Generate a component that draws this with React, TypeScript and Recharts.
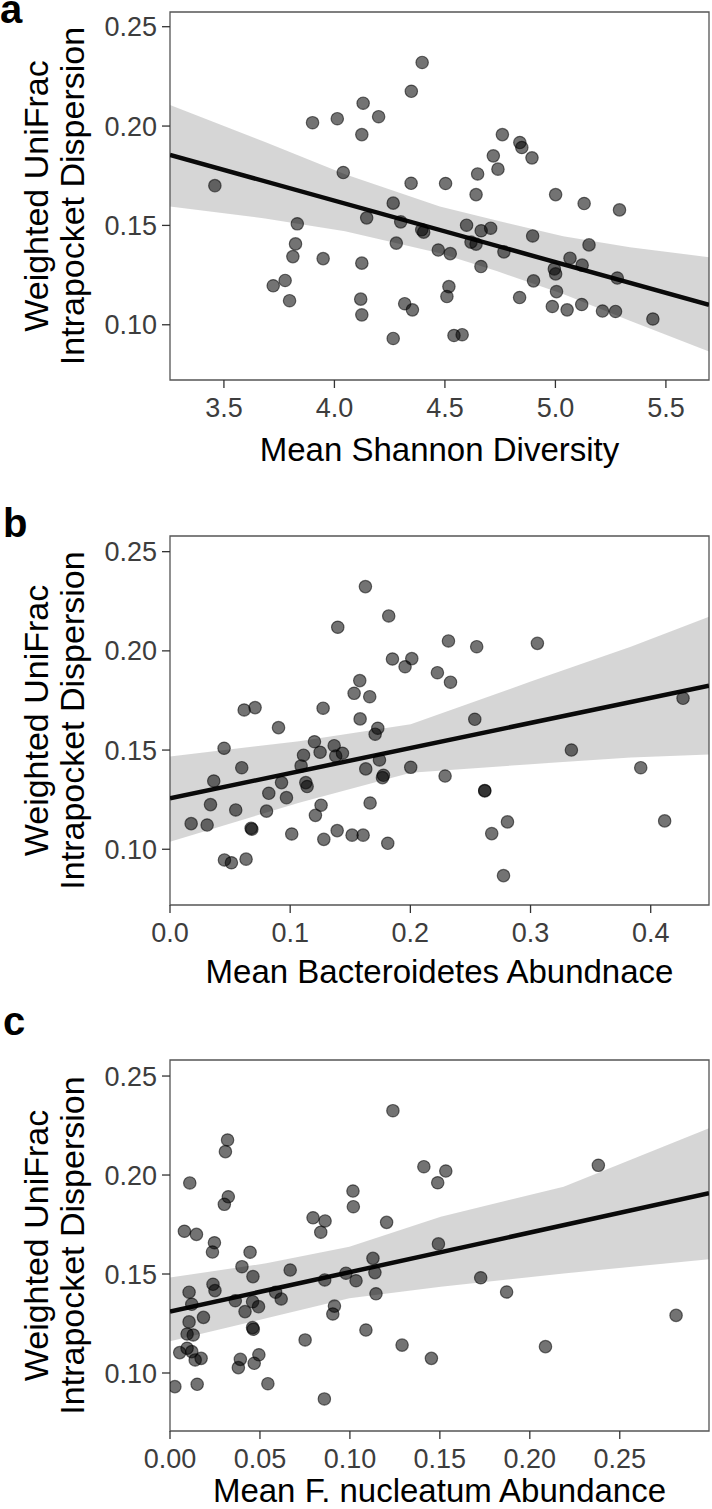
import { Area, ComposedChart, Line, ReferenceArea, Scatter, XAxis, YAxis } from 'recharts';

const FONT = '"Liberation Sans", Arial, Helvetica, sans-serif';

// shared y axis
const DISPERSION_TICKS = [0.1, 0.15, 0.2, 0.25];

// panel a: Shannon diversity
const SHANNON_X = [
  3.459, 4.397, 4.348, 4.13, 3.901, 4.013, 4.2, 4.124, 4.04, 4.347, 4.266, 4.146, 4.3, 4.395, 4.404,
  3.832, 3.824, 3.812, 3.949, 4.28, 4.124, 3.723, 3.777, 3.797, 4.119, 4.124, 4.318, 4.353, 4.266,
  4.503, 4.76, 4.839, 4.848, 4.719, 4.894, 4.74, 4.648, 4.641, 5.001, 5.13, 5.29, 4.598, 4.664, 4.707,
  4.618, 4.641, 4.767, 4.897, 5.152, 5.066, 5.121, 4.995, 5.001, 5.28, 4.47, 4.524, 4.663, 4.901,
  4.518, 4.509, 4.838, 5.005, 4.986, 5.053, 5.119, 5.213, 5.272, 5.441, 4.541, 4.578,
];
const SHANNON_Y = [
  0.170, 0.232, 0.2175, 0.2115, 0.2017, 0.2037, 0.2047, 0.1957, 0.1766, 0.1712, 0.1612, 0.1538, 0.1518, 0.1478, 0.1466,
  0.1508, 0.1407, 0.1343, 0.1333, 0.1411, 0.131, 0.1196, 0.1223, 0.1121, 0.1129, 0.105, 0.1106, 0.1075, 0.0931,
  0.1711, 0.1957, 0.1917, 0.1892, 0.185, 0.184, 0.1783, 0.1759, 0.1655, 0.1655, 0.161, 0.1578, 0.1501, 0.1473, 0.1486,
  0.1416, 0.1406, 0.1367, 0.1447, 0.1402, 0.1335, 0.13, 0.1281, 0.1256, 0.1235, 0.1376, 0.1358, 0.1293, 0.1221,
  0.1192, 0.1142, 0.1137, 0.1167, 0.1092, 0.1075, 0.1102, 0.1069, 0.1067, 0.1029, 0.0946, 0.095,
];
const SHANNON_FIT_X = [3.256, 5.695];
const SHANNON_FIT_Y = [0.1855, 0.11];
const SHANNON_BAND_X = [3.256, 3.686, 4.048, 4.477, 4.734, 5.035, 5.337, 5.695];
const SHANNON_BAND_LO = [0.1595, 0.1535, 0.147, 0.136, 0.127, 0.1155, 0.102, 0.0865];
const SHANNON_BAND_HI = [0.2106, 0.192, 0.1758, 0.1595, 0.1525, 0.1445, 0.139, 0.134];
const SHANNON_TICKS = [3.5, 4, 4.5, 5, 5.5];

// panel b: Bacteroidetes
const BACT_X = [
  0.1626, 0.182, 0.1396, 0.1851, 0.1956, 0.2012, 0.2225, 0.1579, 0.1532, 0.1662, 0.1274, 0.0617, 0.0708,
  0.0903, 0.1582, 0.1729, 0.1707, 0.1202, 0.1366, 0.1249, 0.1435, 0.1379, 0.1111, 0.045, 0.1091, 0.0597,
  0.1629, 0.1743, 0.2003, 0.0364, 0.0928, 0.113, 0.1141, 0.1776, 0.1768, 0.0822, 0.0969, 0.0337, 0.0547,
  0.0803, 0.1257, 0.121, 0.1665, 0.0176, 0.0309, 0.0675, 0.0681, 0.1013, 0.128, 0.1391, 0.1515, 0.1607,
  0.1812, 0.0453, 0.0511, 0.0633, 0.2317, 0.2552, 0.3057, 0.2334, 0.2536, 0.4269, 0.334, 0.3917, 0.2289,
  0.2619, 0.2619, 0.2808, 0.2677, 0.4116, 0.2775,
];
const BACT_Y = [
  0.2324, 0.2176, 0.2119, 0.1959, 0.192, 0.1961, 0.189, 0.185, 0.1786, 0.1769, 0.1711, 0.1702, 0.1714,
  0.1613, 0.1657, 0.161, 0.158, 0.1542, 0.1522, 0.1489, 0.1484, 0.147, 0.1474, 0.1509, 0.142, 0.1411,
  0.1405, 0.145, 0.1413, 0.1344, 0.1336, 0.1336, 0.1316, 0.1373, 0.1361, 0.1282, 0.126, 0.1225, 0.1198,
  0.1192, 0.1222, 0.1171, 0.1233, 0.1129, 0.1122, 0.1106, 0.1101, 0.1077, 0.105, 0.1094, 0.1071, 0.1071,
  0.103, 0.0946, 0.0932, 0.095, 0.205, 0.2021, 0.2038, 0.1842, 0.1655, 0.1761, 0.15, 0.1411, 0.1369,
  0.1296, 0.1294, 0.1138, 0.1079, 0.1143, 0.0867,
];
const BACT_FIT_X = [0, 0.4485];
const BACT_FIT_Y = [0.1257, 0.1825];
const BACT_BAND_X = [0, 0.1074, 0.2003, 0.3002, 0.3834, 0.4485];
const BACT_BAND_LO = [0.1038, 0.1235, 0.1385, 0.1429, 0.1463, 0.1478];
const BACT_BAND_HI = [0.1467, 0.1545, 0.163, 0.1845, 0.2021, 0.2172];
const BACT_TICKS = [0, 0.1, 0.2, 0.3, 0.4];

// panel c: F. nucleatum
const FUSO_X = [
  0.1239, 0.032, 0.0308, 0.011, 0.1411, 0.1488, 0.1533, 0.0324, 0.0302, 0.1017, 0.1019, 0.0795, 0.0862,
  0.0838, 0.1204, 0.008, 0.0147, 0.0247, 0.0236, 0.0445, 0.1492, 0.04, 0.0668, 0.0461, 0.1128, 0.1139,
  0.0978, 0.1034, 0.086, 0.1145, 0.0239, 0.025, 0.0106, 0.0587, 0.0618, 0.0363, 0.0121, 0.0459, 0.0492,
  0.0417, 0.0914, 0.0905, 0.0186, 0.0106, 0.0459, 0.0463, 0.1089, 0.0095, 0.0129, 0.0751, 0.129, 0.1453,
  0.0054, 0.0095, 0.014, 0.0173, 0.0121, 0.0391, 0.038, 0.0494, 0.0468, 0.0027, 0.0151, 0.0544, 0.0858,
  0.2381, 0.1727, 0.1871, 0.2813, 0.2087,
];
const FUSO_Y = [
  0.2325, 0.2177, 0.2118, 0.196, 0.2042, 0.1961, 0.202, 0.189, 0.1852, 0.1919, 0.184, 0.1784, 0.1768,
  0.1711, 0.1761, 0.1716, 0.17, 0.1658, 0.1611, 0.161, 0.1652, 0.1537, 0.152, 0.1487, 0.1579, 0.1507,
  0.1504, 0.1466, 0.147, 0.14, 0.1448, 0.1416, 0.1408, 0.1408, 0.1374, 0.1365, 0.1347, 0.136, 0.1335,
  0.131, 0.1338, 0.1298, 0.1281, 0.1258, 0.1229, 0.1221, 0.1217, 0.1197, 0.1192, 0.1167, 0.1141, 0.1074,
  0.1103, 0.1125, 0.1066, 0.1074, 0.1108, 0.1069, 0.1027, 0.1092, 0.1049, 0.0931, 0.0943, 0.0946, 0.0869,
  0.2049, 0.1481, 0.1409, 0.1291, 0.1133,
];
const FUSO_FIT_X = [0, 0.2996];
const FUSO_FIT_Y = [0.131, 0.1908];
const FUSO_BAND_X = [0, 0.0535, 0.0997, 0.1505, 0.2188, 0.2996];
const FUSO_BAND_LO = [0.116, 0.1276, 0.1377, 0.1436, 0.1503, 0.1574];
const FUSO_BAND_HI = [0.1482, 0.1554, 0.1638, 0.1789, 0.1941, 0.2236];
const FUSO_TICKS = [0, 0.05, 0.1, 0.15, 0.2, 0.25];

const Y_TITLE = ['Weighted UniFrac', 'Intrapocket Dispersion'];

type Row = { x: number; y: number };
type BandRow = { x: number; band: [number, number] };

const toRows = (xs: number[], ys: number[]): Row[] => xs.map((x, i) => ({ x, y: ys[i] }));
const toBand = (xs: number[], lo: number[], hi: number[]): BandRow[] =>
  xs.map((x, i) => ({ x, band: [lo[i], hi[i]] }));

const PointShape = (props: any) => (
  <circle
    cx={props.cx}
    cy={props.cy}
    r={6.2}
    fill="#000"
    fillOpacity={0.55}
    stroke="#000"
    strokeOpacity={0.55}
    strokeWidth={1.2}
  />
);

interface PanelProps {
  letter: string;
  top: number;
  height: number;
  frameTop: number;
  frameBottom: number;
  titleGap: number;
  letterBaseline: number;
  xTitle: string;
  xDomain: [number, number];
  yDomain: [number, number];
  xTicks: number[];
  xDigits: number;
  points: Row[];
  fit: Row[];
  band: BandRow[];
}

function Panel({
  letter,
  top,
  height,
  frameTop,
  frameBottom,
  titleGap,
  letterBaseline,
  xTitle,
  xDomain,
  yDomain,
  xTicks,
  xDigits,
  points,
  fit,
  band,
}: PanelProps) {
  const plotTop = frameTop - top;
  const plotBottom = frameBottom - top;
  const axisH = 60;
  const tickStyle = { fontSize: 27, fill: '#3d3d3d', fontFamily: FONT };
  const tickLine = { stroke: '#333', strokeWidth: 1.3 };
  const midY = (plotTop + plotBottom) / 2;

  return (
    <div style={{ position: 'absolute', left: 0, top, width: 712, height }}>
      <ComposedChart
        width={712}
        height={height}
        data={band}
        margin={{ top: plotTop, right: 3, bottom: height - plotBottom - axisH, left: 70 }}
      >
        <XAxis
          type="number"
          dataKey="x"
          domain={xDomain}
          allowDataOverflow
          ticks={xTicks}
          interval={0}
          tickFormatter={(v: number) => v.toFixed(xDigits)}
          axisLine={false}
          tickSize={8}
          tickMargin={10}
          tickLine={tickLine}
          tick={tickStyle}
          height={axisH}
          label={() => (
            <text
              x={439.5}
              y={plotBottom + titleGap}
              textAnchor="middle"
              fontSize={33}
              fontFamily={FONT}
              fill="#000"
            >
              {xTitle}
            </text>
          )}
        />
        <YAxis
          type="number"
          dataKey="y"
          domain={yDomain}
          allowDataOverflow
          ticks={DISPERSION_TICKS}
          interval={0}
          tickFormatter={(v: number) => v.toFixed(2)}
          axisLine={false}
          tickSize={8}
          tickMargin={5}
          tickLine={tickLine}
          tick={tickStyle}
          width={100}
          label={() => (
            <g>
              {Y_TITLE.map((line, i) => {
                const bx = i === 0 ? 48 : 84;
                return (
                  <text
                    key={line}
                    x={bx}
                    y={midY}
                    transform={`rotate(-90, ${bx}, ${midY})`}
                    textAnchor="middle"
                    fontSize={34}
                    fontFamily={FONT}
                    fill="#000"
                  >
                    {line}
                  </text>
                );
              })}
            </g>
          )}
        />
        <Scatter data={points} shape={PointShape} isAnimationActive={false} />
        <Area
          dataKey="band"
          type="linear"
          stroke="none"
          fill="#999999"
          fillOpacity={0.4}
          dot={false}
          activeDot={false}
          isAnimationActive={false}
        />
        <Line
          data={fit}
          dataKey="y"
          type="linear"
          stroke="#0a0a0a"
          strokeWidth={4.5}
          dot={false}
          activeDot={false}
          isAnimationActive={false}
        />
        <ReferenceArea
          x1={xDomain[0]}
          x2={xDomain[1]}
          y1={yDomain[0]}
          y2={yDomain[1]}
          fill="none"
          stroke="#555"
          strokeWidth={1.3}
          ifOverflow="visible"
        />
      </ComposedChart>
      <div
        style={{
          position: 'absolute',
          left: letter === 'a' ? 0 : 3,
          top: letterBaseline - top - 23,
          fontFamily: FONT,
          fontWeight: 'bold',
          fontSize: 40,
          lineHeight: '18px',
          color: '#000',
        }}
      >
        {letter}
      </div>
    </div>
  );
}

export default function App() {
  return (
    <div
      style={{
        position: 'absolute',
        left: 0,
        top: 0,
        width: 712,
        height: 1509,
        background: '#fff',
        overflow: 'hidden',
      }}
    >
      <Panel
        letter="a"
        top={0}
        height={500}
        frameTop={12}
        frameBottom={380}
        titleGap={81}
        letterBaseline={23}
        xTitle="Mean Shannon Diversity"
        xDomain={[3.256, 5.695]}
        yDomain={[0.0722, 0.2574]}
        xTicks={SHANNON_TICKS}
        xDigits={1}
        points={toRows(SHANNON_X, SHANNON_Y)}
        fit={toRows(SHANNON_FIT_X, SHANNON_FIT_Y)}
        band={toBand(SHANNON_BAND_X, SHANNON_BAND_LO, SHANNON_BAND_HI)}
      />
      <Panel
        letter="b"
        top={490}
        height={510}
        frameTop={536}
        frameBottom={905}
        titleGap={78}
        letterBaseline={537}
        xTitle="Mean Bacteroidetes Abundnace"
        xDomain={[0, 0.4485]}
        yDomain={[0.0719, 0.2579]}
        xTicks={BACT_TICKS}
        xDigits={1}
        points={toRows(BACT_X, BACT_Y)}
        fit={toRows(BACT_FIT_X, BACT_FIT_Y)}
        band={toBand(BACT_BAND_X, BACT_BAND_LO, BACT_BAND_HI)}
      />
      <Panel
        letter="c"
        top={1000}
        height={509}
        frameTop={1060}
        frameBottom={1431}
        titleGap={71}
        letterBaseline={1035}
        xTitle="Mean F. nucleatum Abundance"
        xDomain={[0, 0.2996]}
        yDomain={[0.0707, 0.2581]}
        xTicks={FUSO_TICKS}
        xDigits={2}
        points={toRows(FUSO_X, FUSO_Y)}
        fit={toRows(FUSO_FIT_X, FUSO_FIT_Y)}
        band={toBand(FUSO_BAND_X, FUSO_BAND_LO, FUSO_BAND_HI)}
      />
    </div>
  );
}
